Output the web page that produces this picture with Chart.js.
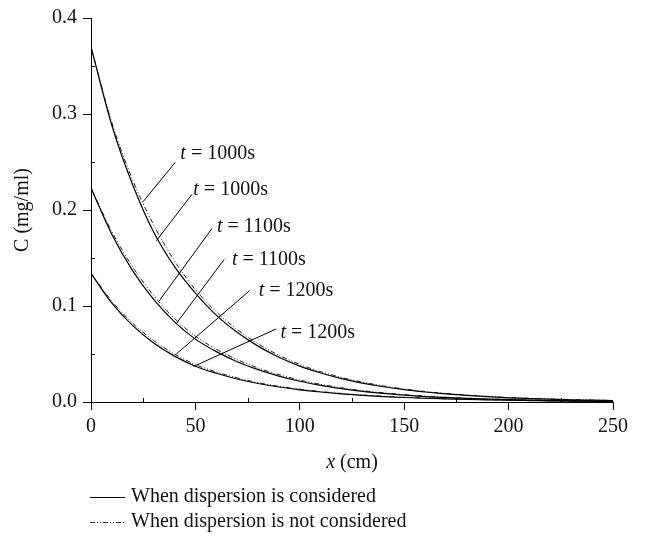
<!DOCTYPE html>
<html>
<head>
<meta charset="utf-8">
<script src="https://cdn.jsdelivr.net/npm/chart.js@4.4.0/dist/chart.umd.min.js"></script>
<style>
  html, body { margin: 0; padding: 0; background: #fff; }
  canvas { display: block; }
</style>
</head>
<body>
<canvas id="chart" width="645" height="536"></canvas>
<script>
// distance along the column (cm)
const distance = [0, 10, 20, 30, 40, 50, 60, 70, 80, 90, 100, 110, 120, 130, 140, 150, 160, 170, 180, 190, 200, 210, 220, 230, 240, 250];

// concentration (mg/ml), with dispersion
const disp1000 = [0.370, 0.2880, 0.2260, 0.1770, 0.1410, 0.1135, 0.0905, 0.0726, 0.0582, 0.0466, 0.0374, 0.0302, 0.0244, 0.0197, 0.0159, 0.0128, 0.0104, 0.0084, 0.0068, 0.0055, 0.0044, 0.0036, 0.0029, 0.0023, 0.0019, 0.0015];
const disp1100 = [0.223, 0.1745, 0.1366, 0.1069, 0.0835, 0.0655, 0.0525, 0.0420, 0.0337, 0.0270, 0.0216, 0.0173, 0.0139, 0.0111, 0.0089, 0.0071, 0.0057, 0.0046, 0.0037, 0.0030, 0.0024, 0.0019, 0.0015, 0.0012, 0.0010, 0.0008];
const disp1200 = [0.134, 0.1030, 0.0795, 0.0615, 0.0478, 0.0373, 0.0299, 0.0240, 0.0193, 0.0156, 0.0127, 0.0104, 0.0085, 0.0070, 0.0057, 0.0047, 0.0039, 0.0032, 0.0026, 0.0022, 0.0018, 0.0015, 0.0012, 0.0010, 0.0008, 0.0007];

// concentration (mg/ml), without dispersion
const noDisp1000 = [0.370, 0.2910, 0.2310, 0.1845, 0.1470, 0.1170, 0.0940, 0.0755, 0.0607, 0.0487, 0.0391, 0.0316, 0.0256, 0.0207, 0.0168, 0.0136, 0.0110, 0.0089, 0.0072, 0.0058, 0.0047, 0.0038, 0.0031, 0.0025, 0.0020, 0.0016];
const noDisp1100 = [0.223, 0.1775, 0.1405, 0.1110, 0.0870, 0.0685, 0.0550, 0.0441, 0.0355, 0.0285, 0.0229, 0.0184, 0.0148, 0.0119, 0.0096, 0.0077, 0.0062, 0.0050, 0.0040, 0.0032, 0.0026, 0.0021, 0.0017, 0.0014, 0.0011, 0.0009];
const noDisp1200 = [0.134, 0.1050, 0.0820, 0.0640, 0.0500, 0.0390, 0.0313, 0.0251, 0.0202, 0.0164, 0.0133, 0.0109, 0.0089, 0.0073, 0.0060, 0.0049, 0.0041, 0.0034, 0.0028, 0.0023, 0.0019, 0.0016, 0.0013, 0.0011, 0.0009, 0.0007];

const xTicks = [0, 50, 100, 150, 200, 250];
const yTicks = [0, 0.1, 0.2, 0.3, 0.4];
const xMinor = [25, 75, 125, 175, 225];
const yMinor = [0.05, 0.15, 0.25, 0.35];

const legendLabels = ["When dispersion is considered", "When dispersion is not considered"];

// callouts: curve point, elbow of the leader, text anchor (data units)
const callouts = [
  { time: "1000s", at: [24.9, 0.2086], to: [40.4, 0.2497], text: [42.8, 0.2590] },
  { time: "1000s", at: [31.3, 0.1680], to: [48.4, 0.2164], text: [49.0, 0.2216] },
  { time: "1100s", at: [32.6, 0.1052], to: [57.9, 0.1805], text: [60.3, 0.1822] },
  { time: "1100s", at: [40.9, 0.0818], to: [63.8, 0.1486], text: [67.5, 0.1480] },
  { time: "1200s", at: [40.9, 0.0500], to: [76.0, 0.1161], text: [80.3, 0.1154] },
  { time: "1200s", at: [49.1, 0.0370], to: [88.7, 0.0761], text: [90.7, 0.0726] },
];

const SERIF = "'Liberation Serif', 'Times New Roman', serif";
Chart.defaults.font.family = SERIF;
Chart.defaults.font.size = 20;
Chart.defaults.color = "#111";

const DASH = [5, 2, 1, 2, 1, 2];

function series(values) {
  return distance.map((d, i) => ({ x: d, y: values[i] }));
}

function solid(values) {
  return { data: series(values), borderColor: "#000", borderWidth: 1.2 };
}

function dashed(values) {
  return { data: series(values), borderColor: "#222", borderWidth: 1, borderDash: DASH };
}

const extras = {
  id: "extras",
  afterDraw(chart) {
    const { ctx, chartArea, scales: { x, y } } = chart;
    ctx.save();
    ctx.strokeStyle = "#000";
    ctx.lineWidth = 1;

    // minor ticks point into the plot
    ctx.beginPath();
    xMinor.forEach(v => {
      const px = Math.round(x.getPixelForValue(v)) + 0.5;
      ctx.moveTo(px, chartArea.bottom);
      ctx.lineTo(px, chartArea.bottom - 4);
    });
    yMinor.forEach(v => {
      const py = Math.round(y.getPixelForValue(v)) + 0.5;
      ctx.moveTo(chartArea.left, py);
      ctx.lineTo(chartArea.left + 4, py);
    });
    ctx.stroke();

    // callout leaders and labels
    ctx.fillStyle = "#111";
    ctx.textBaseline = "middle";
    ctx.textAlign = "left";
    callouts.forEach(c => {
      ctx.beginPath();
      ctx.moveTo(x.getPixelForValue(c.at[0]), y.getPixelForValue(c.at[1]));
      ctx.lineTo(x.getPixelForValue(c.to[0]), y.getPixelForValue(c.to[1]));
      ctx.stroke();
      const tx = x.getPixelForValue(c.text[0]);
      const ty = y.getPixelForValue(c.text[1]);
      ctx.font = "italic 20px " + SERIF;
      ctx.fillText("t", tx, ty);
      const w = ctx.measureText("t").width;
      ctx.font = "20px " + SERIF;
      ctx.fillText(" = " + c.time, tx + w, ty);
    });

    // x axis title: italic variable, upright unit
    const cx = (chartArea.left + chartArea.right) / 2;
    ctx.font = "italic 20px " + SERIF;
    const wVar = ctx.measureText("x").width;
    ctx.font = "20px " + SERIF;
    const wUnit = ctx.measureText(" (cm)").width;
    const sx = cx - (wVar + wUnit) / 2;
    ctx.font = "italic 20px " + SERIF;
    ctx.fillText("x", sx, 463);
    ctx.font = "20px " + SERIF;
    ctx.fillText(" (cm)", sx + wVar, 463);

    // legend under the axis
    const rows = [497, 522];
    const styles = [chart.data.datasets[0], chart.data.datasets[1]];
    rows.forEach((ry, i) => {
      ctx.beginPath();
      ctx.setLineDash(styles[i].borderDash || []);
      ctx.lineWidth = styles[i].borderWidth;
      ctx.strokeStyle = styles[i].borderColor;
      ctx.moveTo(90, ry + 0.5);
      ctx.lineTo(125, ry + 0.5);
      ctx.stroke();
      ctx.setLineDash([]);
      ctx.fillText(legendLabels[i], 131, ry);
    });
    ctx.restore();
  }
};

new Chart(document.getElementById("chart"), {
  type: "line",
  data: {
    datasets: [
      solid(disp1000), dashed(noDisp1000),
      solid(disp1100), dashed(noDisp1100),
      solid(disp1200), dashed(noDisp1200),
    ],
  },
  options: {
    responsive: false,
    animation: false,
    devicePixelRatio: 1,
    layout: { padding: { left: 0, right: 32, top: 13, bottom: 0 } },
    elements: {
      point: { radius: 0 },
      line: { cubicInterpolationMode: "monotone", fill: false },
    },
    plugins: { legend: { display: false }, tooltip: { enabled: false } },
    scales: {
      x: {
        type: "linear",
        min: 0,
        max: 250,
        afterBuildTicks: s => { s.ticks = xTicks.map(v => ({ value: v })); },
        afterFit: s => { s.height = 134; },
        grid: { drawOnChartArea: false, drawTicks: true, tickLength: 8, color: "#000" },
        border: { color: "#000", width: 1 },
        ticks: { padding: 5, maxRotation: 0, autoSkip: false },
      },
      y: {
        type: "linear",
        min: 0,
        max: 0.4,
        afterBuildTicks: s => { s.ticks = yTicks.map(v => ({ value: v })); },
        afterFit: s => { s.width = 91; },
        grid: { drawOnChartArea: false, drawTicks: true, tickLength: 8, color: "#000" },
        border: { color: "#000", width: 1 },
        ticks: { padding: 6, callback: v => v.toFixed(1) },
        title: { display: true, text: "C (mg/ml)", padding: { top: 11, bottom: 0 } },
      },
    },
  },
  plugins: [extras],
});
</script>
</body>
</html>
